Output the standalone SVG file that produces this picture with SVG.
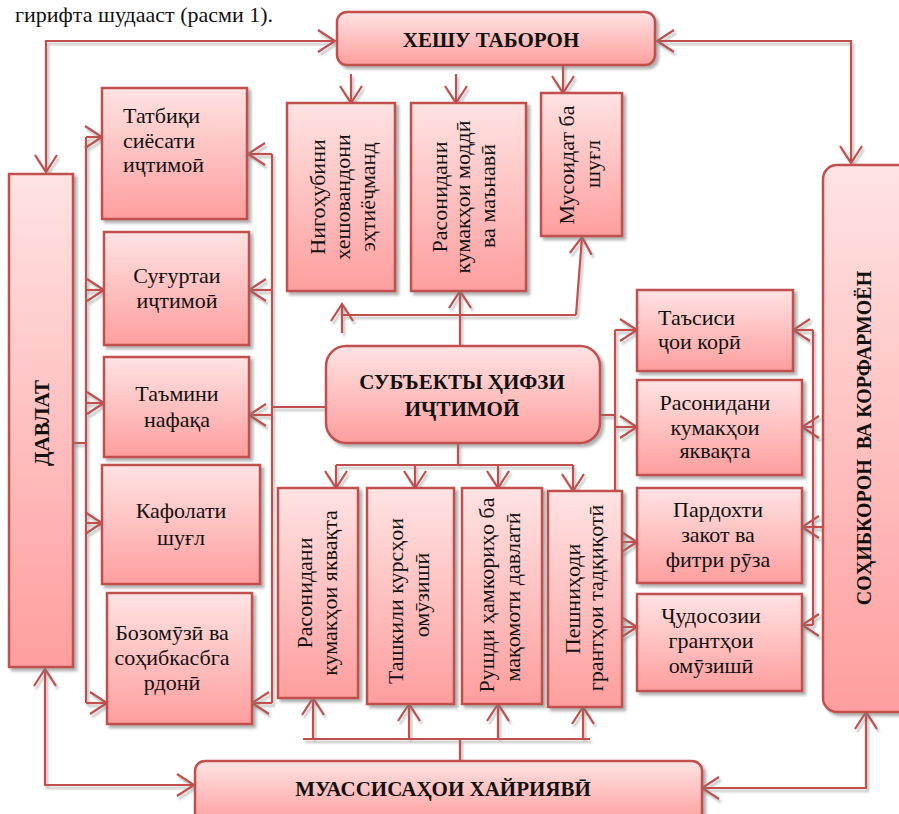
<svg xmlns="http://www.w3.org/2000/svg" width="899" height="814" viewBox="0 0 899 814">
<defs>
<linearGradient id="g" x1="0" y1="0" x2="0" y2="1">
<stop offset="0" stop-color="#FFE3E3"/>
<stop offset="1" stop-color="#FF9E9E"/>
</linearGradient>
<filter id="sh" x="-10%" y="-10%" width="130%" height="130%">
<feDropShadow dx="3" dy="3" stdDeviation="1.5" flood-color="#7a7a7a" flood-opacity="0.6"/>
</filter>
<filter id="lsh" x="-10%" y="-10%" width="130%" height="130%">
<feDropShadow dx="2" dy="3" stdDeviation="0.8" flood-color="#8a8a8a" flood-opacity="0.55"/>
</filter>
<marker id="a" viewBox="0 0 20 24" markerWidth="20" markerHeight="24" refX="18" refY="12" orient="auto-start-reverse" markerUnits="userSpaceOnUse">
<path d="M1,1 L18,12 L1,23" fill="none" stroke="#C0504D" stroke-width="2.2"/>
</marker>
<style>
.box{fill:url(#g);stroke:#C0504D;stroke-width:2.5;filter:url(#sh)}
.t{font-family:"Liberation Serif","Times New Roman",serif;font-size:22px;fill:#111}
.c{text-anchor:middle}
.b{font-family:"Liberation Serif","Times New Roman",serif;font-weight:bold;fill:#111;text-anchor:middle}
#connectors path{fill:none;stroke:#C0504D;stroke-width:2.2}
.ar{marker-end:url(#a)}
.ar2{marker-start:url(#a);marker-end:url(#a)}
</style>
</defs>
<rect width="899" height="814" fill="#ffffff"/>
<text class="t" x="15" y="22" style="font-size:22px">гирифта шудааст (расми 1).</text>

<g id="connectors" filter="url(#lsh)">
<path class="ar2" d="M46,172 V41 H335"/>
<path class="ar2" d="M851,163 V41 H657"/>
<path class="ar" d="M351,74 V103"/>
<path class="ar" d="M456,74 V103"/>
<path class="ar" d="M563,65 V93"/>
<path d="M73,443 H86"/>
<path d="M86,137 V703"/>
<path class="ar" d="M86,137 H102"/>
<path class="ar" d="M86,290 H104"/>
<path class="ar" d="M86,403 H104"/>
<path class="ar" d="M86,523 H102"/>
<path class="ar" d="M86,703 H107"/>
<path d="M326,407 H272"/>
<path d="M272,154 V703"/>
<path class="ar" d="M272,154 H248"/>
<path class="ar" d="M272,290 H249"/>
<path class="ar" d="M272,415 H249"/>
<path class="ar" d="M272,703 H252"/>
<path class="ar2" d="M45,669 V785 H194"/>
<path class="ar2" d="M866,712 V788 H702"/>
<path d="M458,443 V465"/>
<path d="M336,465 H573"/>
<path class="ar" d="M336,465 V488"/>
<path class="ar" d="M415,465 V488"/>
<path class="ar" d="M498,465 V488"/>
<path class="ar" d="M573,465 V491"/>
<path d="M460,761 V739"/>
<path d="M303,739 H590"/>
<path class="ar" d="M313,739 V698"/>
<path class="ar" d="M409,739 V704"/>
<path class="ar" d="M498,739 V704"/>
<path class="ar" d="M583,739 V707"/>
<path class="ar" d="M460,346 V291"/>
<path d="M342,315 H576"/>
<path class="ar" d="M576,315 L582,237"/>
<path class="ar" d="M342,333 V304"/>
<path d="M600,415 H615"/>
<path d="M615,330 V627"/>
<path class="ar" d="M615,330 H637"/>
<path class="ar" d="M615,427 H637"/>
<path class="ar" d="M615,542 H637"/>
<path class="ar" d="M615,627 H637"/>
<path class="ar" d="M823,527 H802"/>
<path d="M813,330 V625"/>
<path class="ar" d="M813,330 H793"/>
<path class="ar" d="M813,427 H802"/>
<path class="ar" d="M813,625 H802"/>
</g>

<g id="heshu">
<rect class="box" x="337" y="12" width="318" height="53" rx="10"/>
<text class="b" x="491" y="47" style="font-size:21px">ХЕШУ ТАБОРОН</text>
</g>
<g id="davlat">
<rect class="box" x="9" y="174" width="64" height="493"/>
<text class="b" transform="translate(49,423) rotate(-90)" style="font-size:21px">ДАВЛАТ</text>
</g>
<g id="sohibkoron">
<rect class="box" x="823" y="165" width="95" height="547" rx="14"/>
<text class="b" transform="translate(871,438) rotate(-90)" style="font-size:20px" xml:space="preserve">СОҲИБКОРОН  ВА КОРФАРМОЁН</text>
</g>
<g id="subekty">
<rect class="box" x="326" y="346" width="274" height="97" rx="20"/>
<text class="b" x="462" y="389" style="font-size:21px">СУБЪЕКТЫ ҲИФЗИ</text>
<text class="b" x="462" y="416" style="font-size:21px">ИҶТИМОӢ</text>
</g>
<g id="muassisa">
<rect class="box" x="195" y="761" width="507" height="62" rx="10"/>
<text class="b" x="443" y="796" style="font-size:21px">МУАССИСАҲОИ ХАЙРИЯВӢ</text>
</g>

<g id="tatbiq">
<rect class="box" x="102" y="88" width="145" height="131"/>
<text class="t" x="123" y="123">Татбиқи</text>
<text class="t" x="123" y="148">сиёсати</text>
<text class="t" x="123" y="172">иҷтимоӣ</text>
</g>
<g id="sughurta">
<rect class="box" x="104" y="232" width="145" height="113"/>
<text class="t c" x="177" y="283">Суғуртаи</text>
<text class="t c" x="177" y="308">иҷтимоӣ</text>
</g>
<g id="tamini">
<rect class="box" x="104" y="357" width="145" height="100"/>
<text class="t c" x="177" y="401">Таъмини</text>
<text class="t c" x="177" y="427">нафақа</text>
</g>
<g id="kafolat">
<rect class="box" x="102" y="465" width="158" height="119"/>
<text class="t c" x="181" y="518">Кафолати</text>
<text class="t c" x="181" y="545">шуғл</text>
</g>
<g id="bozomuzi">
<rect class="box" x="107" y="593" width="145" height="131"/>
<text class="t c" x="172" y="640">Бозомӯзӣ ва</text>
<text class="t c" x="172" y="665">соҳибкасбга</text>
<text class="t c" x="172" y="690">рдонӣ</text>
</g>

<g id="nigohubini">
<rect class="box" x="287" y="103" width="108" height="188"/>
<text class="t c" transform="translate(325,197) rotate(-90)">Нигоҳубини</text>
<text class="t c" transform="translate(350,197) rotate(-90)">хешовандони</text>
<text class="t c" transform="translate(375,197) rotate(-90)">эҳтиёҷманд</text>
</g>
<g id="rasonidani-moddi">
<rect class="box" x="411" y="103" width="115" height="188"/>
<text class="t c" transform="translate(447,197) rotate(-90)">Расонидани</text>
<text class="t c" transform="translate(470,197) rotate(-90)">кумакҳои моддӣ</text>
<text class="t c" transform="translate(495,196) rotate(-90)">ва маънавӣ</text>
</g>
<g id="musoidat">
<rect class="box" x="541" y="93" width="81" height="143"/>
<text class="t c" transform="translate(574,165) rotate(-90)">Мусоидат ба</text>
<text class="t c" transform="translate(600,164) rotate(-90)">шуғл</text>
</g>

<g id="rasonidani-yakvaqta-b">
<rect class="box" x="278" y="488" width="80" height="210"/>
<text class="t c" transform="translate(312,593) rotate(-90)">Расонидани</text>
<text class="t c" transform="translate(337,593) rotate(-90)">кумакҳои яквақта</text>
</g>
<g id="tashkili">
<rect class="box" x="367" y="488" width="87" height="216"/>
<text class="t c" transform="translate(403,601) rotate(-90)">Ташкили курсҳои</text>
<text class="t c" transform="translate(429,595) rotate(-90)">омӯзишӣ</text>
</g>
<g id="rushdi">
<rect class="box" x="462" y="488" width="80" height="216"/>
<text class="t c" transform="translate(494,595) rotate(-90)">Рушди ҳамкориҳо ба</text>
<text class="t c" transform="translate(520,597) rotate(-90)">мақомоти давлатӣ</text>
</g>
<g id="peshnihodi">
<rect class="box" x="548" y="491" width="74" height="216"/>
<text class="t c" transform="translate(580,599) rotate(-90)">Пешниҳоди</text>
<text class="t c" transform="translate(603,598) rotate(-90)">грантҳои тадқиқотӣ</text>
</g>

<g id="tasisi">
<rect class="box" x="637" y="290" width="156" height="81"/>
<text class="t" x="658" y="325">Таъсиси</text>
<text class="t" x="658" y="349">ҷои корӣ</text>
</g>
<g id="rasonidani-yakvaqta-r">
<rect class="box" x="637" y="380" width="165" height="95"/>
<text class="t c" x="715" y="410">Расонидани</text>
<text class="t c" x="715" y="435">кумакҳои</text>
<text class="t c" x="715" y="458">яквақта</text>
</g>
<g id="pardokhti">
<rect class="box" x="637" y="488" width="165" height="95"/>
<text class="t c" x="718" y="517">Пардохти</text>
<text class="t c" x="718" y="542">закот ва</text>
<text class="t c" x="718" y="567">фитри рӯза</text>
</g>
<g id="judosozi">
<rect class="box" x="637" y="594" width="165" height="97"/>
<text class="t c" x="711" y="623">Ҷудосозии</text>
<text class="t c" x="711" y="648">грантҳои</text>
<text class="t c" x="711" y="673">омӯзишӣ</text>
</g>
</svg>
